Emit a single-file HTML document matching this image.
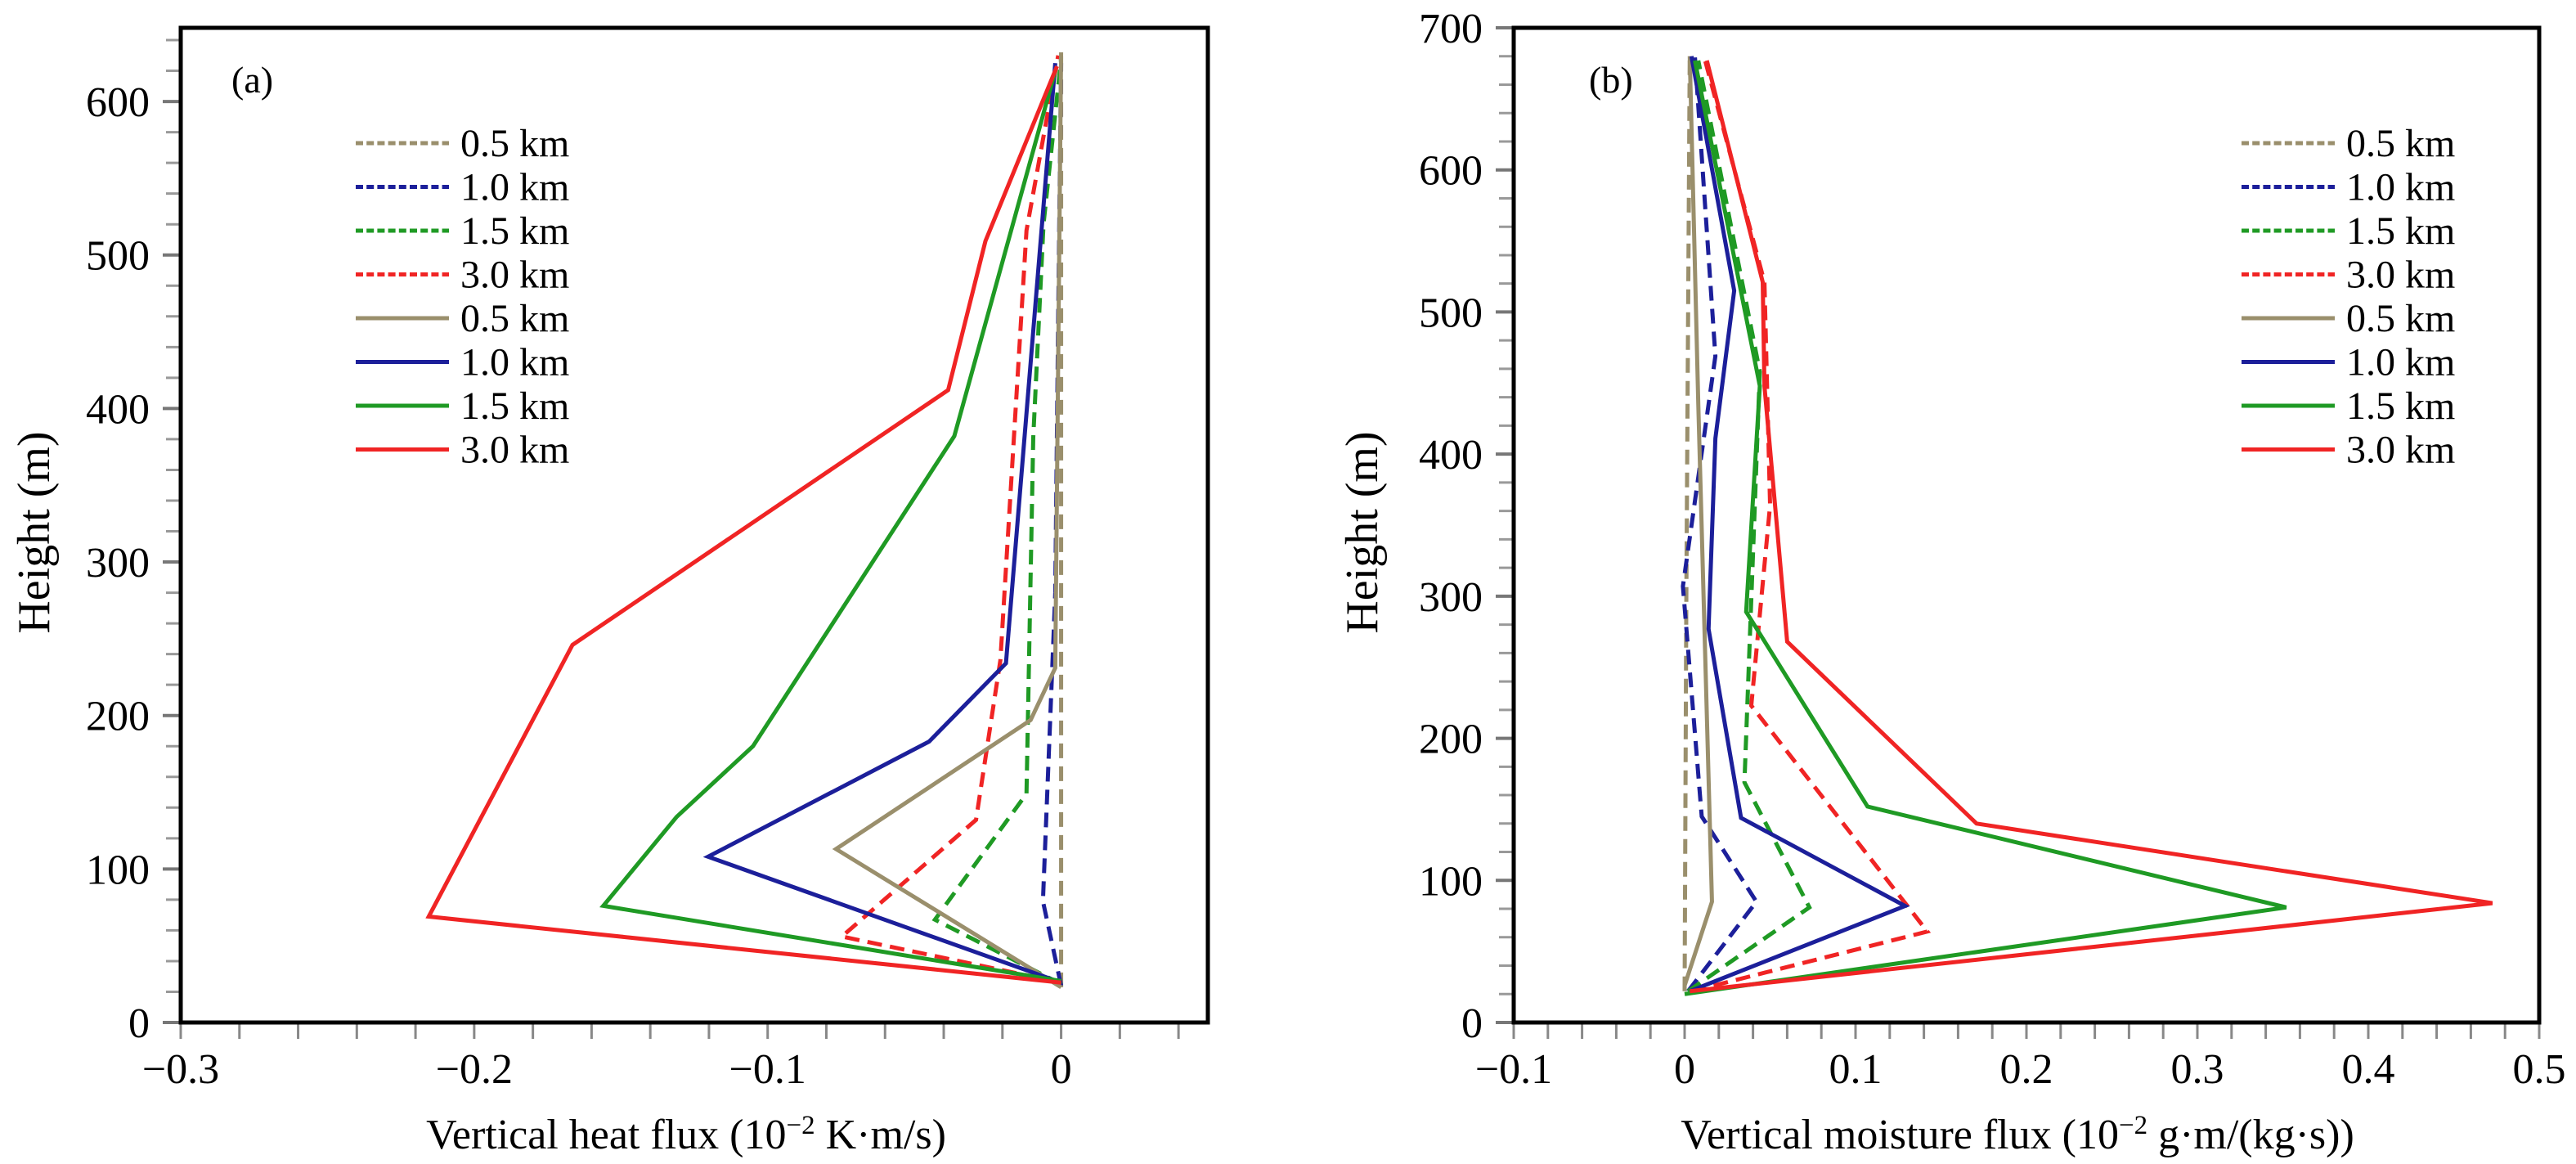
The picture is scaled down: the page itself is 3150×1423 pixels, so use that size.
<!DOCTYPE html>
<html><head><meta charset="utf-8">
<style>
html,body{margin:0;padding:0;background:#fff;}
svg{display:block;}
text{font-family:"Liberation Serif",serif;fill:#000;}
</style></head>
<body>
<svg id="chart" width="3150" height="1423" viewBox="0 0 3150 1423" xmlns="http://www.w3.org/2000/svg">
<g id="panelA"></g>
<g id="panelB"></g>
</svg>
<script>
// ---------- data ----------
const legendLabels = ["0.5 km","1.0 km","1.5 km","3.0 km","0.5 km","1.0 km","1.5 km","3.0 km"];
const seriesColors = ["#9a8f6c","#1c1f9a","#1f9a24","#f02424","#9a8f6c","#1c1f9a","#1f9a24","#f02424"];
const seriesDashed = [true,true,true,true,false,false,false,false];

const aXTicks = [-0.3,-0.2,-0.1,0];
const aXTickLabels = ["\u22120.3","\u22120.2","\u22120.1","0"];
const aYTicks = [0,100,200,300,400,500,600];
// panel a series: [x,h] pairs
const aDash05 = [[0,23],[0,632]];
const aDash10 = [[0,24],[-0.0062,79],[-0.002,280],[-0.001,460],[0,625]];
const aDash15 = [[0,25],[-0.043,67],[-0.0118,149],[-0.0095,381],[-0.006,520],[0,628]];
const aDash30 = [[0,26],[-0.0747,56],[-0.029,132],[-0.0207,236],[-0.0118,516],[-0.001,630]];
const aSol05 = [[0,23],[-0.0767,113],[-0.0104,197],[-0.002,231],[0,632]];
const aSol10 = [[0,26],[-0.1203,108],[-0.045,183],[-0.0188,234],[-0.002,625]];
const aSol15 = [[0,27],[-0.156,76],[-0.131,134],[-0.105,180],[-0.0364,382],[-0.002,620]];
const aSol30 = [[0,26],[-0.2155,69],[-0.1665,246],[-0.0385,412],[-0.0258,509],[-0.0014,623]];

const bXTicks = [-0.1,0,0.1,0.2,0.3,0.4,0.5];
const bXTickLabels = ["\u22120.1","0","0.1","0.2","0.3","0.4","0.5"];
const bYTicks = [0,100,200,300,400,500,600,700];
const bDash05 = [[0,22],[0.001,300],[0.003,680]];
const bDash10 = [[0.002,22],[0.042,85],[0.01,145],[-0.001,307],[0.018,469],[0.006,680]];
const bDash15 = [[0.002,22],[0.073,81],[0.035,169],[0.044,458],[0.008,677]];
const bDash30 = [[0.004,22],[0.142,64],[0.039,223],[0.05,364],[0.0467,521],[0.012,677]];
const bSol05 = [[0,26],[0.016,85],[0.008,435],[0.003,680]];
const bSol10 = [[0.003,22],[0.129,82],[0.033,144],[0.014,277],[0.018,411],[0.029,515],[0.004,680]];
const bSol15 = [[0,20],[0.352,81],[0.107,152],[0.036,289],[0.044,448],[0.006,677]];
const bSol30 = [[0.003,22],[0.4726,84],[0.1708,140],[0.060,268],[0.0467,448],[0.0457,521],[0.013,677]];

const NS="http://www.w3.org/2000/svg";
function mk(parent,tag,attrs){const e=document.createElementNS(NS,tag);for(const k in attrs)e.setAttribute(k,attrs[k]);parent.appendChild(e);return e;}

function drawPanel(g,cfg){
  const xs=v=>cfg.L+(v-cfg.xmin)/(cfg.xmax-cfg.xmin)*(cfg.R-cfg.L);
  const ys=v=>cfg.B-(v-cfg.ymin)/(cfg.ymax-cfg.ymin)*(cfg.B-cfg.T);
  for(let v=cfg.ymin; v<=cfg.ymaxTick+0.001; v+=20){
    const major=(v%100===0);
    const t=mk(g,"line",{x1:cfg.L-(major?22:18),x2:cfg.L,y1:ys(v),y2:ys(v),stroke:major?"#777":"#999","stroke-width":major?4:3});
    
    
  }
  for(let i=0;i*cfg.xminor<=cfg.xmax-cfg.xmin+1e-9;i++){
    const v=cfg.xmin+i*cfg.xminor;
    const t=mk(g,"line",{x1:xs(v),x2:xs(v),y1:cfg.B,y2:cfg.B+20,stroke:"#888","stroke-width":3});
    
    
  }
  cfg.series.forEach((s,i)=>{
    const p=mk(g,"polyline",{points:s.map(d=>xs(d[0])+","+ys(d[1])).join(" "),fill:"none",stroke:seriesColors[i],"stroke-width":5,"stroke-linejoin":"miter"});
    if(seriesDashed[i]) p.setAttribute("stroke-dasharray","18 10");
    
    
  });
  const fr=mk(g,"rect",{x:cfg.L,y:cfg.T,width:cfg.R-cfg.L,height:cfg.B-cfg.T,fill:"none",stroke:"#000","stroke-width":5});
  
  
  cfg.yTicks.forEach(v=>{
    const t=mk(g,"text",{x:cfg.L-38,y:ys(v)+18,"text-anchor":"end","font-size":52});
    t.textContent=String(v);
    
    
  });
  cfg.xTicks.forEach((v,i)=>{
    const t=mk(g,"text",{x:xs(v),y:1324,"text-anchor":"middle","font-size":52});
    t.textContent=cfg.xLabels[i];
    
    
  });
  const yt=mk(g,"text",{x:0,y:0,"text-anchor":"middle","font-size":56,transform:`translate(${cfg.yTitleX},651) rotate(-90)`});
  yt.textContent="Height (m)";
  
  
  const xt=mk(g,"text",{x:cfg.xTitleX,y:1404,"text-anchor":"middle","font-size":52});
  xt.innerHTML=cfg.xTitle;
  
  
  const pl=mk(g,"text",{x:cfg.labelX,y:113,"font-size":46});
  pl.textContent=cfg.label;
  
  
  legendLabels.forEach((lab,i)=>{
    const y=175+i*53.5;
    const ln=mk(g,"line",{x1:cfg.legX,x2:cfg.legX+114,y1:y,y2:y,stroke:seriesColors[i],"stroke-width":5});
    if(seriesDashed[i]) ln.setAttribute("stroke-dasharray","9 4.2");
    
    
    const t=mk(g,"text",{x:cfg.legX+128,y:y+16,"font-size":48});
    t.textContent=lab;
    
    
  });
}

drawPanel(document.getElementById("panelA"),{
  L:221,R:1477,T:34,B:1250,xmin:-0.3,xmax:0.05,ymin:0,ymax:648,ymaxTick:640,xminor:0.02,
  yTicks:aYTicks,xTicks:aXTicks,xLabels:aXTickLabels,
  series:[aDash05,aDash10,aDash15,aDash30,aSol05,aSol10,aSol15,aSol30],
  yTitleX:60,xTitleX:839,
  xTitle:'Vertical heat flux (10<tspan dy="-18" font-size="33">\u22122</tspan><tspan dy="18"> K\u00b7m/s)</tspan>',
  label:"(a)",labelX:283,legX:435
});
drawPanel(document.getElementById("panelB"),{
  L:1851,R:3105,T:34,B:1250,xmin:-0.1,xmax:0.5,ymin:0,ymax:700,ymaxTick:700,xminor:0.02,
  yTicks:bYTicks,xTicks:bXTicks,xLabels:bXTickLabels,
  series:[bDash05,bDash10,bDash15,bDash30,bSol05,bSol10,bSol15,bSol30],
  yTitleX:1684,xTitleX:2467,
  xTitle:'Vertical moisture flux (10<tspan dy="-18" font-size="33">\u22122</tspan><tspan dy="18"> g\u00b7m/(kg\u00b7s))</tspan>',
  label:"(b)",labelX:1943,legX:2741
});
</script>
</body></html>
